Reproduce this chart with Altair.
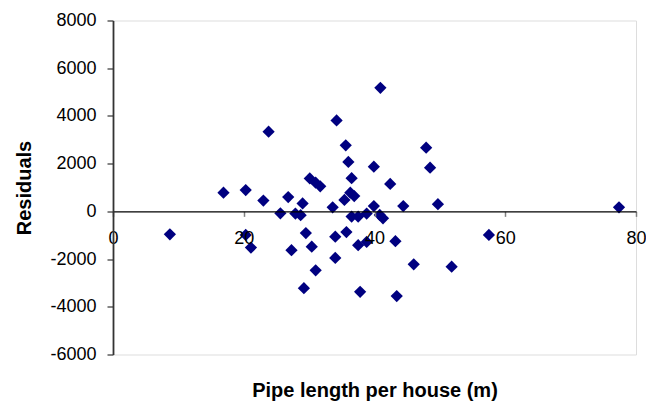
import altair as alt
import pandas as pd

pipe_length = [8.7, 16.9, 20.3, 20.3, 21.1, 23.0, 23.8, 25.6, 26.8, 27.3,
               27.9, 28.7, 29.0, 29.5, 29.2, 30.4, 30.1, 31.0, 31.7, 31.0,
               33.6, 34.0, 34.0, 34.2, 35.6, 36.0, 36.5, 35.4, 36.3, 36.9,
               35.7, 36.5, 37.5, 38.8, 39.9, 40.8, 41.3, 37.5, 38.8, 37.8,
               39.9, 40.9, 42.4, 43.2, 43.4, 44.4, 46.0, 47.9, 48.5, 49.7,
               51.8, 57.5, 77.4]
residuals = [-960, 780, 890, -990, -1520, 450, 3340, -80, 600, -1630,
             -90, -160, 330, -910, -3220, -1480, 1380, 1200, 1050, -2470,
             170, -1060, -1950, 3810, 2770, 2070, 1390, 480, 780, 640,
             -870, -220, -220, -90, 220, -150, -290, -1420, -1280, -3370,
             1870, 5180, 1150, -1250, -3550, 220, -2220, 2670, 1830, 300,
             -2320, -990, 170]

x_ticks = [0, 20, 40, 60, 80]
y_ticks = [-6000, -4000, -2000, 0, 2000, 4000, 6000, 8000]

df = pd.DataFrame({"x": pipe_length, "y": residuals})

FONT = "Arial, Liberation Sans, sans-serif"
W, H = 523, 334
zero_offset = -H * 6000 / 14000
LABEL = "datum.value < 0 ? '-' + format(-datum.value, 'd') : format(datum.value, 'd')"

chart = alt.Chart(df).mark_point(
    shape="diamond", filled=True, color="#000080", size=150, opacity=1
).encode(
    x=alt.X("x:Q",
            scale=alt.Scale(domain=[0, 80], nice=False, zero=False),
            axis=alt.Axis(values=x_ticks, offset=zero_offset, grid=False,
                          labelExpr=LABEL,
                          domainColor="#000000", domainWidth=1.2,
                          tickColor="#808080", tickSize=5, tickWidth=1.5,
                          labelFont=FONT, labelFontSize=18, labelColor="#000000",
                          labelPadding=13, labelFlush=False, labelOverlap=False,
                          title="Pipe length per house (m)",
                          titleFont=FONT, titleFontSize=20, titleFontWeight="bold",
                          titleColor="#000000", titleY=185,
                          titleBaseline="alphabetic", zindex=1)),
    y=alt.Y("y:Q",
            scale=alt.Scale(domain=[-6000, 8000], nice=False, zero=False),
            axis=alt.Axis(values=y_ticks, grid=False,
                          labelExpr=LABEL,
                          domainColor="#333333", domainWidth=1.8,
                          tickColor="#333333", tickSize=6, tickWidth=1.2,
                          labelFont=FONT, labelFontSize=18, labelColor="#000000",
                          labelPadding=11, labelOverlap=False,
                          title="Residuals",
                          titleFont=FONT, titleFontSize=20, titleFontWeight="bold",
                          titleColor="#000000", titleX=-83,
                          titleBaseline="alphabetic", zindex=1)),
).properties(
    width=W, height=H,
    autosize=alt.AutoSizeParams(type="none"),
    padding={"left": 105, "top": 12.5, "right": 10, "bottom": 49},
).configure_view(
    stroke="#808080", strokeWidth=2.5
).configure(background="white")

chart.save("out.html", embed_options={"renderer": "svg", "actions": False})
